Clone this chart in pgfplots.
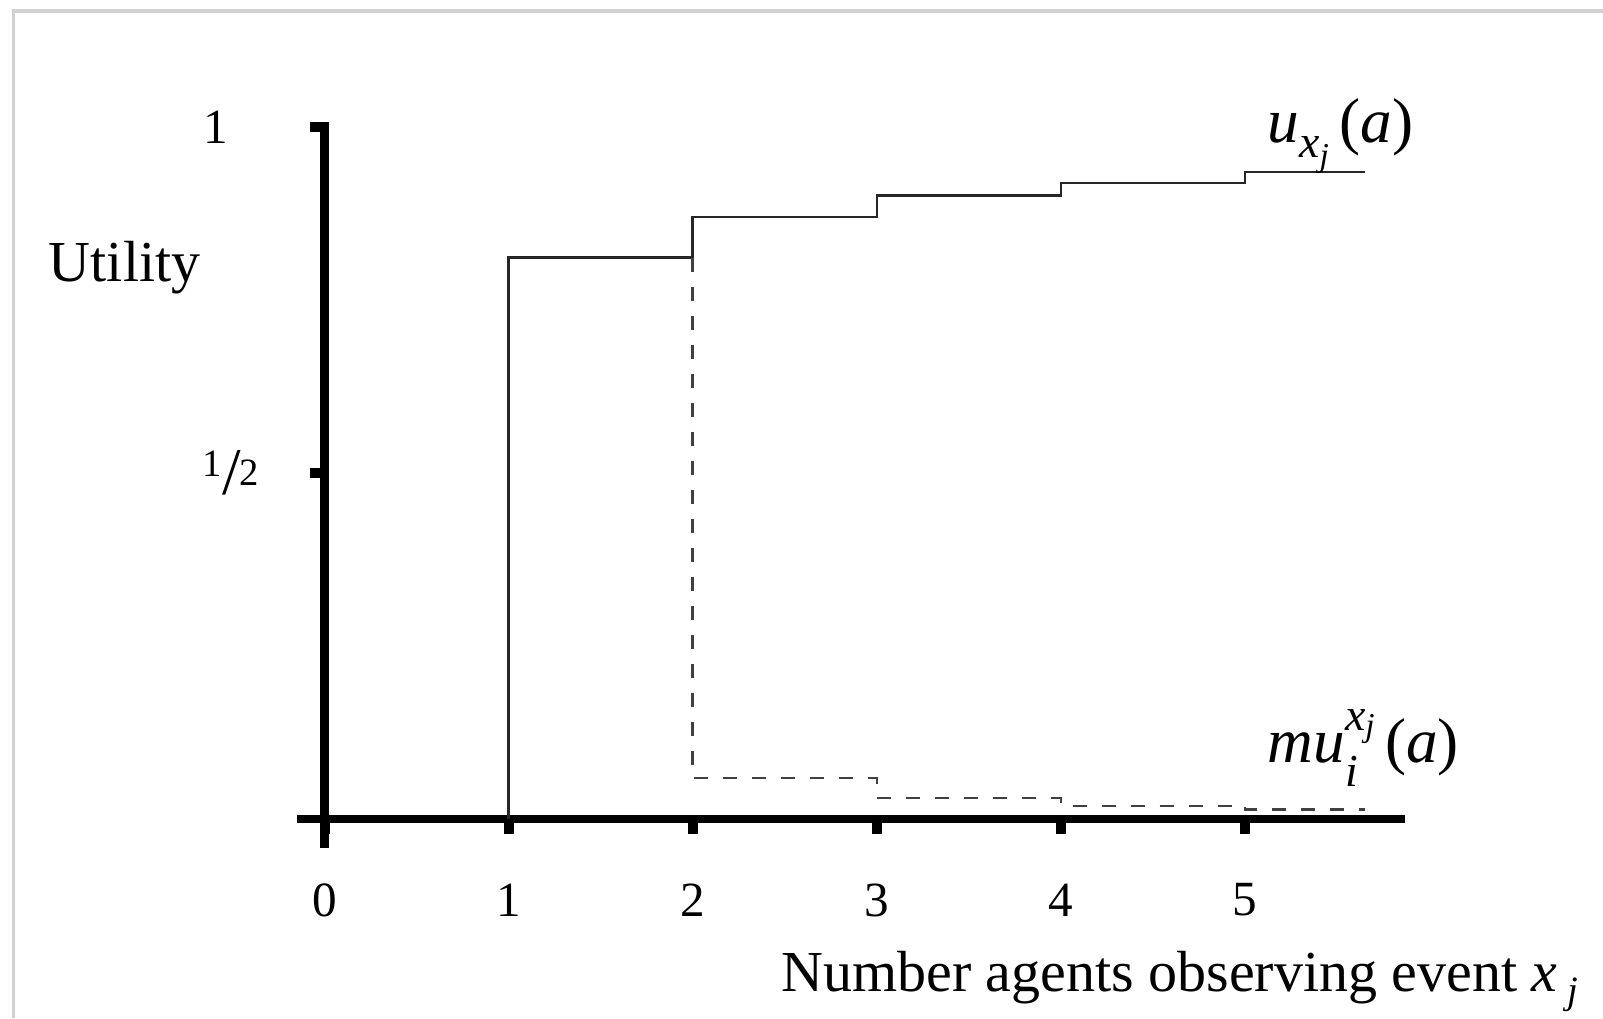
\documentclass[border=0pt]{standalone}
\usepackage{fontspec}
\setmainfont{Liberation Serif}
\usepackage{pgfplots}
\pgfplotsset{compat=1.18}
\begin{document}
\begin{tikzpicture}
\useasboundingbox (0,0) rectangle (16.03cm,10.18cm);
\fill[white] (0,0) rectangle (16.03cm,10.18cm);
\draw[black!18, line width=0.035cm] (0.135cm,0) -- (0.135cm,10.07cm) -- (16.03cm,10.07cm);
\begin{axis}[
  at={(2.97cm,1.70cm)}, anchor=south west,
  scale only axis, width=11.08cm, height=7.26cm,
  xmin=-0.15, xmax=5.87, ymin=-0.042, ymax=1.007,
  axis x line=middle, axis y line=middle,
  axis line style={-, line width=0.085cm, black},
  every inner x axis line/.append style={-},
  every inner y axis line/.append style={-},
  hide obscured x ticks=false, hide obscured y ticks=false,
  xtick={0,1,2,3,4,5}, xticklabels={0,1,2,3,4,5},
  ytick={0.5,1},
  yticklabels={{\fontsize{11}{13}\selectfont\raisebox{0.09cm}{1}}\kern0.01cm\raisebox{-0.09cm}{\fontsize{19}{20}\selectfont/}\kern-0.01cm{\fontsize{11}{13}\selectfont 2},{1\rule{0.30cm}{0pt}}},
  /pgf/number format/assume math mode=true,
  tick align=outside, major tick length=0.15cm,
  tick style={line width=0.1cm, black},
  xticklabel style={font=\fontsize{14}{16}\selectfont, anchor=center, yshift=-0.66cm},
  yticklabel style={font=\fontsize{14}{16}\selectfont, anchor=center, xshift=-0.79cm},
  xlabel={Number agents observing event \textit{x}\,\raisebox{-0.12cm}{\fontsize{11}{13}\selectfont\textit{j}}},
  ylabel={Utility},
  every axis x label/.style={at={(axis cs:2.414,-0.25)}, anchor=base west, font=\fontsize{16.5}{19}\selectfont},
  every axis y label/.style={at={(axis cs:-1.565,0.777)}, anchor=base west, font=\fontsize{16.5}{19}\selectfont},
  clip=false,
]
\addplot[black!85, line width=0.025cm, const plot] coordinates {
  (1,0) (1,0.811) (2,0.811) (2,0.870) (3,0.870) (3,0.901) (4,0.901) (4,0.919) (5,0.919) (5,0.935) (5.65,0.935)
};
\addplot[black!75, line width=0.025cm, dash pattern=on 0.14cm off 0.15cm] coordinates {
  (2,0.811) (2,0.059) (3,0.059) (3,0.030) (4,0.030) (4,0.019) (5,0.019) (5,0.014) (5.65,0.014)
};
\node[anchor=base west, font=\fontsize{18}{20}\selectfont, inner sep=0pt] at (axis cs:5.12,0.978)
  {\textit{u}\raisebox{-0.15cm}{\fontsize{13}{14}\selectfont\textit{x}\raisebox{-0.09cm}{\fontsize{9.5}{10}\selectfont\textit{j}}}\,(\textit{a})};
\node[anchor=base west, font=\fontsize{18}{20}\selectfont, inner sep=0pt] at (axis cs:5.12,0.081)
  {\textit{mu}\rlap{\raisebox{-0.24cm}{\fontsize{13}{14}\selectfont\textit{i}}}\raisebox{0.32cm}{\fontsize{13}{14}\selectfont\textit{x}\raisebox{-0.06cm}{\fontsize{9.5}{10}\selectfont\textit{j}}}\,(\textit{a})};
\end{axis}
\end{tikzpicture}
\end{document}
